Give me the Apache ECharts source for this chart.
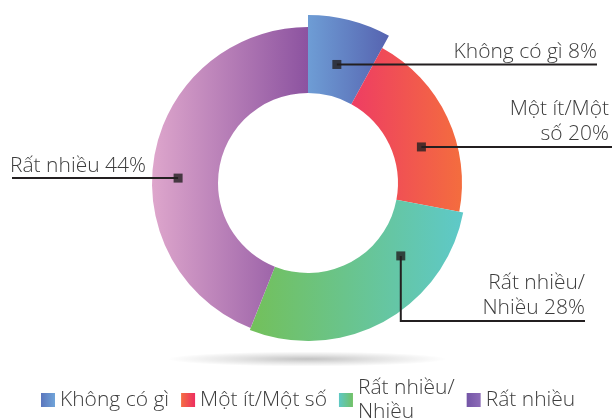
<!DOCTYPE html>
<html>
<head>
<meta charset="utf-8">
<script src="https://cdn.jsdelivr.net/npm/echarts@6/dist/echarts.min.js"></script>
<style>html,body{margin:0;padding:0;background:#fff}#c{width:612px;height:418px}</style>
</head>
<body>
<div id="c"></div>
<script>
// ---- data ----
const categories = ['Không có gì', 'Một ít/Một số', 'Rất nhiều/Nhiều', 'Rất nhiều'];
const values = [8, 20, 28, 44];
const labelTexts = ['Không có gì 8%', 'Một ít/Một\nsố 20%', 'Rất nhiều/\nNhiều 28%', 'Rất nhiều 44%'];
const legendTexts = ['Không có gì', 'Một ít/Một số', 'Rất nhiều/\nNhiều', 'Rất nhiều'];

// ---- styling / layout ----
const gradients = [
  ['#6e9dd5', '#5663b0'],
  ['#ee3d63', '#f46d3e'],
  ['#73c05a', '#5ec9c9'],
  ['#dea6cc', '#8c53a0']
];
const legendGradients = [
  ['#5b76bd', '#70a4d9'],
  ['#f46e43', '#ed2e60'],
  ['#5ec8c5', '#72c166'],
  ['#7455a6', '#8d6cb8']
];
const CX = 308, CY = 183, INNER = 90;
const outerRadii = [168, 154, 158, 156];
// marker anchors: radius (px) and angle (percent of circle, clockwise from top)
const anchors = [[122, 3.8], [119, 20.1], [118, 35.6], [130, 75.6]];
// label layouts: text anchor x, line end x, optional elbow y, align
const labelCfg = [
  {tx: 597, endX: 597, align: 'right'},
  {tx: 609, endX: 612, align: 'right'},
  {tx: 585, endX: 585, elbowY: 321, align: 'right'},
  {tx: 10, endX: 12, align: 'left'}
];
const FONT = 'Open Sans';
const TEXT_COLOR = '#3d3d3d';
const LINE_COLOR = '#231f20';

function grad(c) {
  return new echarts.graphic.LinearGradient(0, 0, 1, 0, [
    {offset: 0, color: c[0]}, {offset: 1, color: c[1]}
  ]);
}
function anchorPx(i) {
  const a = anchors[i][1] / 100 * Math.PI * 2;
  return [CX + anchors[i][0] * Math.sin(a), CY - anchors[i][0] * Math.cos(a)];
}

const chart = echarts.init(document.getElementById('c'), null, {renderer: 'canvas'});

// one pie per slice so each slice can have its own outer radius
const pieSeries = categories.map((_, s) => ({
  type: 'pie',
  center: [CX, CY],
  radius: [INNER, outerRadii[s]],
  startAngle: 90,
  clockwise: true,
  silent: true,
  animation: false,
  z: 2,
  label: {show: false},
  labelLine: {show: false},
  data: categories.map((name, j) => ({
    name: name,
    value: values[j],
    itemStyle: j === s ? {color: grad(gradients[j])} : {color: 'rgba(0,0,0,0)'}
  }))
}));

// transparent pie on top carrying the labels and leader lines
const labelSeries = {
  type: 'pie',
  center: [CX, CY],
  radius: [INNER, 160],
  startAngle: 90,
  clockwise: true,
  silent: true,
  animation: false,
  avoidLabelOverlap: false,
  z: 4,
  data: categories.map((name, j) => ({
    name: name, value: values[j], itemStyle: {color: 'rgba(0,0,0,0)'}
  })),
  label: {
    formatter: p => labelTexts[p.dataIndex],
    fontFamily: FONT,
    fontWeight: 300,
    fontSize: 21,
    lineHeight: 25,
    color: TEXT_COLOR
  },
  labelLine: {show: true, lineStyle: {color: LINE_COLOR, width: 2}},
  labelLayout: function (params) {
    const i = params.dataIndex;
    const cfg = labelCfg[i];
    const m = anchorPx(i);
    let pts, lineY;
    if (cfg.elbowY !== undefined) {
      pts = [[m[0], m[1]], [m[0], cfg.elbowY], [cfg.endX, cfg.elbowY]];
      lineY = cfg.elbowY;
    } else {
      pts = [[m[0], m[1]], [(m[0] + cfg.endX) / 2, m[1]], [cfg.endX, m[1]]];
      lineY = m[1];
    }
    return {x: cfg.tx, y: lineY, align: cfg.align, verticalAlign: 'bottom', labelLinePoints: pts};
  }
};

const option = {
  backgroundColor: '#fff',
  animation: false,
  polar: {center: [CX, CY], radius: 160},
  angleAxis: {type: 'value', min: 0, max: 100, startAngle: 90, clockwise: true, show: false},
  radiusAxis: {type: 'value', min: 0, max: 160, show: false},
  legend: {
    left: 36,
    top: 371,
    itemWidth: 14,
    itemHeight: 14,
    itemGap: 12,
    icon: 'rect',
    selectedMode: false,
    data: categories.map((name, j) => ({name: name, itemStyle: {color: grad(legendGradients[j])}})),
    formatter: name => legendTexts[categories.indexOf(name)],
    textStyle: {fontFamily: FONT, fontWeight: 300, fontSize: 21, lineHeight: 24, color: TEXT_COLOR}
  },
  graphic: [{
    type: 'circle',
    z: -1,
    x: 307, y: 359,
    scaleX: 14, scaleY: 0.75,
    shape: {cx: 0, cy: 0, r: 10},
    style: {
      fill: new echarts.graphic.RadialGradient(0.5, 0.5, 0.5, [
        {offset: 0, color: 'rgba(0,0,0,0.24)'},
        {offset: 0.5, color: 'rgba(0,0,0,0.11)'},
        {offset: 1, color: 'rgba(0,0,0,0)'}
      ])
    }
  }],
  series: pieSeries.concat([labelSeries, {
    type: 'scatter',
    coordinateSystem: 'polar',
    symbol: 'rect',
    symbolSize: 9,
    silent: true,
    z: 10,
    itemStyle: {color: LINE_COLOR},
    data: anchors.map(a => [a[0], a[1]])
  }])
};
chart.setOption(option);
</script>
</body>
</html>
